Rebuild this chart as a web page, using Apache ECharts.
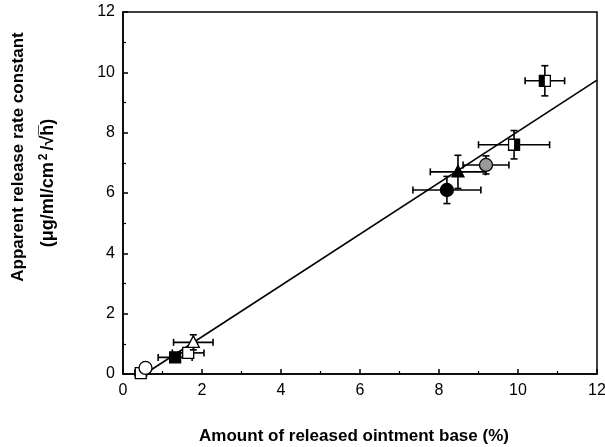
<!DOCTYPE html>
<html><head><meta charset="utf-8">
<script src="https://cdn.jsdelivr.net/npm/echarts@6/dist/echarts.min.js"></script>
<style>html,body{margin:0;padding:0;background:#fff}#c{width:605px;height:447px}</style>
</head><body><div id="c"></div>
<script>
// Data
const ptX    = [0.45, 0.57, 1.32, 1.65, 1.78, 8.20, 8.48, 9.19, 9.90, 10.68];
const ptY    = [0.03, 0.20, 0.55, 0.70, 1.05, 6.10, 6.70, 6.93, 7.60, 9.72];
const ptXErr = [0.15, 0.10, 0.43, 0.40, 0.50, 0.86, 0.70, 0.58, 0.90, 0.50];
const ptYErr = [0.05, 0.05, 0.10, 0.15, 0.25, 0.45, 0.55, 0.30, 0.47, 0.50];
const ptKind = ['sqOpen','circOpen','sqFill','sqOpen','triOpen','circFill','triFill','circHatch','sqHalfR','sqHalfL'];
const fitX = [0.55, 12];
const fitY = [0.00, 9.74];

const chart = echarts.init(document.getElementById('c'));
const FONT = 'Liberation Sans, Arial, sans-serif';

function renderItem(params, api) {
  const i = api.value(0);
  const x = ptX[i], y = ptY[i], ex = ptXErr[i], ey = ptYErr[i];
  const c = api.coord([x, y]);
  const l = api.coord([x - ex, y]), r = api.coord([x + ex, y]);
  const t = api.coord([x, y + ey]), b = api.coord([x, y - ey]);
  const ls = {stroke: '#000', lineWidth: 1.6};
  const cap = 3.5;
  const ch = [
    {type: 'line', shape: {x1: l[0], y1: c[1], x2: r[0], y2: c[1]}, style: ls},
    {type: 'line', shape: {x1: l[0], y1: c[1]-cap, x2: l[0], y2: c[1]+cap}, style: ls},
    {type: 'line', shape: {x1: r[0], y1: c[1]-cap, x2: r[0], y2: c[1]+cap}, style: ls},
    {type: 'line', shape: {x1: c[0], y1: t[1], x2: c[0], y2: b[1]}, style: ls},
    {type: 'line', shape: {x1: c[0]-cap, y1: t[1], x2: c[0]+cap, y2: t[1]}, style: ls},
    {type: 'line', shape: {x1: c[0]-cap, y1: b[1], x2: c[0]+cap, y2: b[1]}, style: ls}
  ];
  const k = ptKind[i];
  const s = 5.5;
  const ms = {stroke: '#000', lineWidth: 1.3};
  if (k.startsWith('sq')) {
    const fill = k === 'sqFill' ? '#000' : '#fff';
    ch.push({type: 'rect', shape: {x: c[0]-s, y: c[1]-s, width: 2*s, height: 2*s}, style: Object.assign({fill: fill}, ms)});
    if (k === 'sqHalfR') ch.push({type: 'rect', shape: {x: c[0], y: c[1]-s, width: s, height: 2*s}, style: {fill: '#000'}});
    if (k === 'sqHalfL') ch.push({type: 'rect', shape: {x: c[0]-s, y: c[1]-s, width: s, height: 2*s}, style: {fill: '#000'}});
  } else if (k.startsWith('circ')) {
    const fill = k === 'circFill' ? '#000' : (k === 'circHatch' ? '#9a9a9a' : '#fff');
    ch.push({type: 'circle', shape: {cx: c[0], cy: c[1], r: 6.5}, style: Object.assign({fill: fill}, ms)});
  } else {
    const fill = k === 'triFill' ? '#000' : '#fff';
    ch.push({type: 'polygon', shape: {points: [[c[0], c[1]-6.5], [c[0]+6, c[1]+5], [c[0]-6, c[1]+5]]}, style: Object.assign({fill: fill}, ms)});
  }
  return {type: 'group', children: ch};
}

const axisCommon = {
  type: 'value', min: 0, max: 12, interval: 2,
  axisLine: {show: true, onZero: false, lineStyle: {color: '#000', width: 1.5}},
  axisTick: {show: true, inside: true, length: 5, lineStyle: {color: '#000', width: 1.5}},
  minorTick: {show: true, splitNumber: 2, length: 3, lineStyle: {color: '#000', width: 1.2}},
  splitLine: {show: false},
  axisLabel: {color: '#000', fontSize: 16, fontFamily: FONT, margin: 9}
};

const option = {
  animation: false,
  backgroundColor: '#fff',
  grid: {left: 123, right: 8, top: 12, bottom: 73, show: true, borderColor: '#000', borderWidth: 1.5,
         outerBoundsMode: 'none', containLabel: false},
  xAxis: axisCommon,
  yAxis: Object.assign({}, axisCommon, {axisLabel: Object.assign({}, axisCommon.axisLabel, {margin: 8})}),
  graphic: [
    {type: 'text', x: 354, y: 436,
     style: {text: 'Amount of released ointment base (%)', font: 'bold 17px ' + FONT, fill: '#000', align: 'center', verticalAlign: 'middle'}},
    {type: 'text', x: 18, y: 157, rotation: Math.PI/2,
     style: {text: 'Apparent release rate constant', font: 'bold 17px ' + FONT, fill: '#000', align: 'center', verticalAlign: 'middle'}},
    {type: 'text', x: 48, y: 183, rotation: Math.PI/2,
     style: {text: '(μg/ml/cm{sup|2}/√h\u0305)', font: 'bold 18px ' + FONT, fill: '#000', align: 'center', verticalAlign: 'middle',
       rich: {sup: {font: 'bold 12px ' + FONT, fill: '#000', verticalAlign: 'top', padding: [0,3,9,2]}}}}
  ],
  series: [
    {type: 'line', data: fitX.map((x, i) => [x, fitY[i]]), symbol: 'none', lineStyle: {color: '#000', width: 1.6}, z: 2},
    {type: 'custom', renderItem: renderItem, data: ptX.map((x, i) => [i]), z: 3, clip: false,
     encode: {x: -1, y: -1}}
  ]
};
chart.setOption(option);
</script></body></html>
